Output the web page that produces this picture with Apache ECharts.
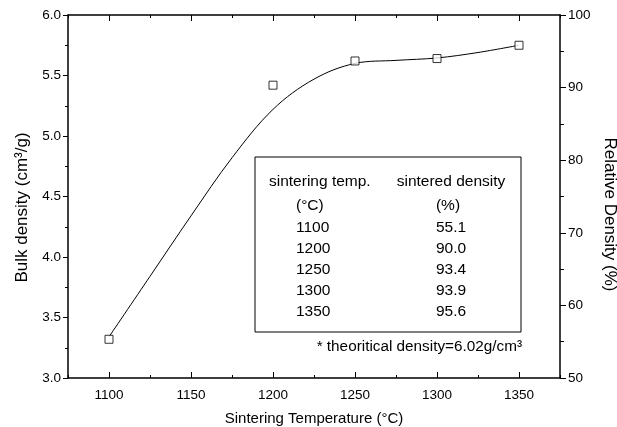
<!DOCTYPE html>
<html>
<head>
<meta charset="utf-8">
<script src="https://cdn.jsdelivr.net/npm/echarts@6/dist/echarts.min.js"></script>
<style>
html,body{margin:0;padding:0;background:#fff;}
#chart{width:617px;height:427px;}
</style>
</head>
<body>
<div id="chart"></div>
<script>
// ---- data ----
const sinterTemps = [1100, 1200, 1250, 1300, 1350];
const bulkDensity = [3.32, 5.42, 5.62, 5.64, 5.75];
const fitTemps = [1100, 1125, 1150, 1175, 1200, 1225, 1250, 1275, 1300, 1325, 1350];
const fitValues = [3.34, 3.84, 4.34, 4.82, 5.22, 5.47, 5.60, 5.625, 5.645, 5.69, 5.75];
const xTickLabels = [1100, 1150, 1200, 1250, 1300, 1350];
const xMinorTicks = [1075, 1125, 1175, 1225, 1275, 1325, 1375];
const tableHeader = ['sintering temp.', 'sintered density'];
const tableUnits = ['(°C)', '(%)'];
const tableTemps = ['1100', '1200', '1250', '1300', '1350'];
const tableRelDensity = ['55.1', '90.0', '93.4', '93.9', '95.6'];
const footnote = '* theoritical density=6.02g/cm³';

const FONT = "'Liberation Sans', Arial, Helvetica, sans-serif";
const chart = echarts.init(document.getElementById('chart'), null, {renderer: 'canvas'});

const gridLeft = 68, gridTop = 15, gridRight = 57, gridBottom = 49;

function xAxisBase(pos, showLine) {
  return {
    type: 'value', position: pos, min: 1075, max: 1375,
    axisLine: {show: showLine, onZero: false, lineStyle: {color: '#000', width: 1.5}},
    splitLine: {show: false},
    axisLabel: {show: false},
    axisTick: {show: false}
  };
}
const xAxes = [];
let a = xAxisBase('bottom', true);
a.axisTick = {show: true, inside: true, length: 6, customValues: xTickLabels, lineStyle: {color: '#000', width: 1}};
a.axisLabel = {show: true, customValues: xTickLabels, margin: 10, color: '#000', fontSize: 13.5, fontFamily: FONT, formatter: v => String(v)};
a.name = 'Sintering Temperature (°C)';
a.nameLocation = 'middle';
a.nameGap = 33;
a.nameTextStyle = {color: '#000', fontSize: 15, fontFamily: FONT, verticalAlign: 'top'};
xAxes.push(a);
a = xAxisBase('bottom', false);
a.axisTick = {show: true, inside: true, length: 3, customValues: xMinorTicks, lineStyle: {color: '#000', width: 1}};
xAxes.push(a);
a = xAxisBase('top', true);
a.axisTick = {show: true, inside: true, length: 6, customValues: xTickLabels, lineStyle: {color: '#000', width: 1}};
xAxes.push(a);
a = xAxisBase('top', false);
a.axisTick = {show: true, inside: true, length: 3, customValues: xMinorTicks, lineStyle: {color: '#000', width: 1}};
xAxes.push(a);

const graphics = [];
graphics.push({type: 'rect', shape: {x: 255, y: 157, width: 266, height: 175}, style: {fill: 'none', stroke: '#000', lineWidth: 1}, z: 10});
function txt(t, x, y, align) {
  graphics.push({type: 'text', x: x, y: y, z: 10,
    style: {text: t, fill: '#000', font: '15.5px ' + FONT, textAlign: align, textVerticalAlign: 'middle'}});
}
txt(tableHeader[0], 269, 182, 'left');
txt(tableHeader[1], 451, 182, 'center');
txt(tableUnits[0], 296, 206, 'left');
txt(tableUnits[1], 448, 206, 'center');
for (let i = 0; i < tableTemps.length; i++) {
  const y = 227.5 + i * 21;
  txt(tableTemps[i], 296, y, 'left');
  txt(tableRelDensity[i], 451, y, 'center');
}
graphics.push({type: 'text', x: 522, y: 347, z: 10,
  style: {text: footnote, fill: '#000', font: '15.3px ' + FONT, textAlign: 'right', textVerticalAlign: 'middle'}});

const option = {
  backgroundColor: '#fff',
  animation: false,
  grid: {left: gridLeft, right: gridRight, top: gridTop, bottom: gridBottom, containLabel: false, outerBoundsMode: 'none'},
  xAxis: xAxes,
  yAxis: [
    {
      type: 'value', position: 'left', min: 3, max: 6, interval: 0.5,
      axisLine: {show: true, onZero: false, lineStyle: {color: '#000', width: 1.5}},
      axisTick: {show: true, inside: false, length: 5, lineStyle: {color: '#000'}},
      minorTick: {show: true, splitNumber: 2, length: 3, lineStyle: {color: '#000'}},
      splitLine: {show: false},
      axisLabel: {color: '#000', fontSize: 13.5, fontFamily: FONT, margin: 7, formatter: v => v.toFixed(1)},
      name: 'Bulk density (cm³/g)', nameLocation: 'middle', nameGap: 37, nameRotate: 90,
      nameTextStyle: {color: '#000', fontSize: 17, fontFamily: FONT, padding: [0, 22, 0, 0]}
    },
    {
      type: 'value', position: 'right', min: 50, max: 100, interval: 10,
      axisLine: {show: true, onZero: false, lineStyle: {color: '#000', width: 1.5}},
      axisTick: {show: true, inside: false, length: 6, lineStyle: {color: '#000'}},
      minorTick: {show: true, splitNumber: 2, length: 4, lineStyle: {color: '#000'}},
      splitLine: {show: false},
      axisLabel: {color: '#000', fontSize: 13.5, fontFamily: FONT, margin: 8},
      name: 'Relative Density (%)', nameLocation: 'middle', nameGap: 38, nameRotate: -90,
      nameTextStyle: {color: '#000', fontSize: 17, fontFamily: FONT, padding: [0, 0, 0, 36]}
    }
  ],
  series: [
    {
      type: 'line', xAxisIndex: 0, yAxisIndex: 0,
      data: fitTemps.map((t, i) => [t, fitValues[i]]),
      smooth: 0.35, showSymbol: false, symbol: 'none',
      lineStyle: {color: '#000', width: 1}, z: 2
    },
    {
      type: 'scatter', xAxisIndex: 0, yAxisIndex: 0,
      data: sinterTemps.map((t, i) => [t, bulkDensity[i]]),
      symbol: 'rect', symbolSize: 8,
      itemStyle: {color: '#fff', borderColor: '#000', borderWidth: 1}, z: 3
    }
  ],
  graphic: graphics
};
chart.setOption(option);
</script>
</body>
</html>
